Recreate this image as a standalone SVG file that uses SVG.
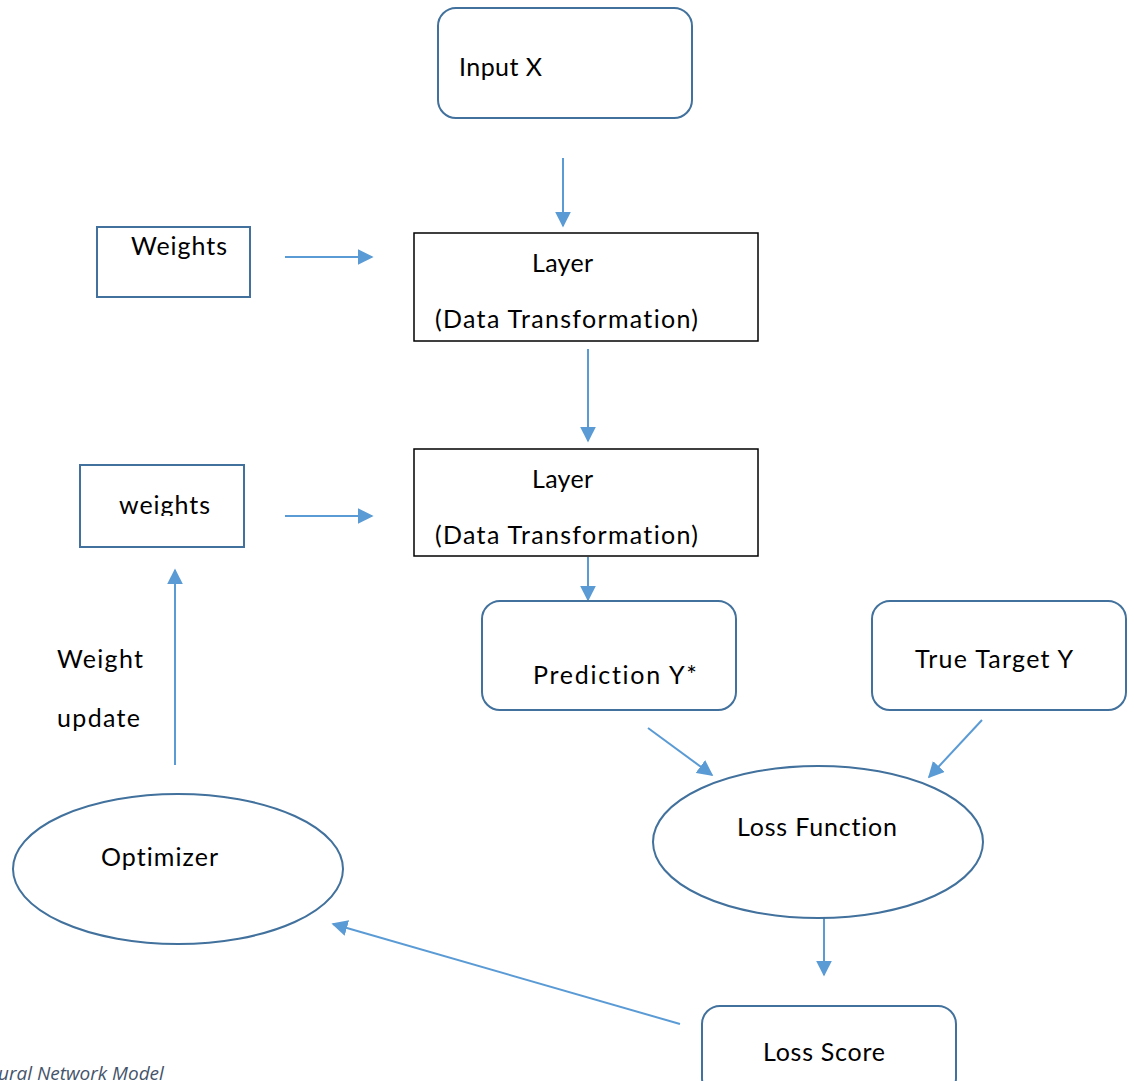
<svg xmlns="http://www.w3.org/2000/svg" width="1134" height="1081" viewBox="0 0 1134 1081">
  <style>
    .blue { fill: #ffffff; stroke: #41719C; stroke-width: 2; }
    .black { fill: #ffffff; stroke: #000000; stroke-width: 1.5; }
    .lbl { font-family: Lato, "Open Sans", sans-serif; font-size: 25px; fill: #000000; font-variant-ligatures: none; }
    .conn { stroke: #5B9BD5; stroke-width: 2; fill: none; marker-end: url(#arrow); }
    .cap { font-family: "Open Sans", "Noto Sans", sans-serif; font-size: 19px; font-style: italic; fill: #44546A; }
  </style>
  <defs>
    <marker id="arrow" viewBox="0 0 10 10" refX="9" refY="5" markerWidth="8" markerHeight="8" orient="auto">
      <path d="M0,0 L10,5 L0,10 z" fill="#5B9BD5"/>
    </marker>
    <clipPath id="clipW2"><rect x="80" y="464" width="164" height="52"/></clipPath>
  </defs>
  <rect width="1134" height="1081" fill="#ffffff"/>

  <g id="connectors">
    <line class="conn" x1="563" y1="158" x2="563" y2="226"/>
    <line class="conn" x1="285" y1="257" x2="372" y2="257"/>
    <line class="conn" x1="588" y1="349" x2="588" y2="441"/>
    <line class="conn" x1="285" y1="516" x2="372" y2="516"/>
    <line class="conn" x1="588" y1="557" x2="588" y2="600"/>
    <line class="conn" x1="648" y1="728" x2="712" y2="775"/>
    <line class="conn" x1="982" y1="720" x2="929" y2="777"/>
    <line class="conn" x1="824" y1="909" x2="824" y2="975"/>
    <line class="conn" x1="680" y1="1024" x2="333" y2="924"/>
    <line class="conn" x1="175" y1="765" x2="175" y2="570"/>
  </g>

  <g id="input-x">
    <rect class="blue" x="438" y="8" width="254" height="110" rx="18"/>
    <text class="lbl" x="459" y="76" textLength="83">Input X</text>
  </g>

  <g id="weights-1">
    <rect class="blue" x="97" y="227" width="153" height="70"/>
    <text class="lbl" x="131" y="255" textLength="96">Weights</text>
  </g>

  <g id="layer-1">
    <rect class="black" x="414" y="233" width="344" height="108"/>
    <text class="lbl" x="532" y="272" textLength="61">Layer</text>
    <text class="lbl" x="435" y="328" textLength="263">(Data Transformation)</text>
  </g>

  <g id="weights-2">
    <rect class="blue" x="80" y="465" width="164" height="82"/>
    <text class="lbl" x="119" y="514" textLength="91" clip-path="url(#clipW2)">weights</text>
  </g>

  <g id="layer-2">
    <rect class="black" x="414" y="449" width="344" height="107"/>
    <text class="lbl" x="532" y="488" textLength="61">Layer</text>
    <text class="lbl" x="435" y="544" textLength="263">(Data Transformation)</text>
  </g>

  <g id="prediction">
    <rect class="blue" x="482" y="601" width="254" height="109" rx="18"/>
    <text class="lbl" x="533" y="684" textLength="164">Prediction Y*</text>
  </g>

  <g id="true-target">
    <rect class="blue" x="872" y="601" width="254" height="109" rx="18"/>
    <text class="lbl" x="915" y="668" textLength="158">True Target Y</text>
  </g>

  <g id="loss-function">
    <ellipse class="blue" cx="818" cy="842" rx="165" ry="76"/>
    <text class="lbl" x="737" y="836" textLength="160">Loss Function</text>
  </g>

  <g id="loss-score">
    <rect class="blue" x="702" y="1006" width="254" height="90" rx="18"/>
    <text class="lbl" x="763" y="1061" textLength="122">Loss Score</text>
  </g>

  <g id="optimizer">
    <ellipse class="blue" cx="178" cy="869" rx="165" ry="75"/>
    <text class="lbl" x="101" y="866" textLength="117">Optimizer</text>
  </g>

  <g id="weight-update-label">
    <text class="lbl" x="57" y="668" textLength="86">Weight</text>
    <text class="lbl" x="57" y="727" textLength="83">update</text>
  </g>

  <text class="cap" x="-2" y="1080">ural Network Model</text>
</svg>
